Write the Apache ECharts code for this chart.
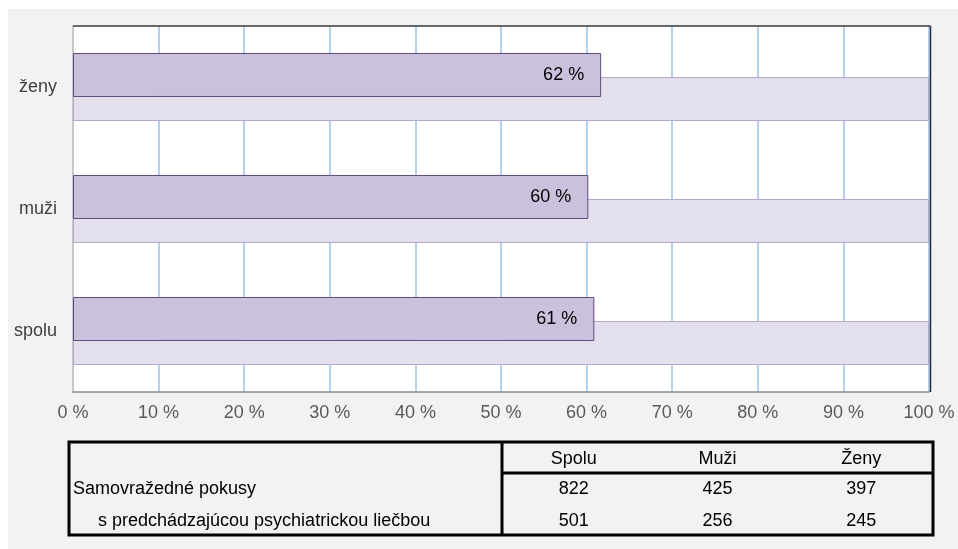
<!DOCTYPE html>
<html>
<head>
<meta charset="utf-8">
<script src="https://cdn.jsdelivr.net/npm/echarts@6/dist/echarts.min.js"></script>
<style>
html,body{margin:0;padding:0;background:#fff;}
#c{width:958px;height:549px;}
</style>
</head>
<body>
<div id="c"></div>
<script>
const categories = ['spolu', 'muži', 'ženy'];
const shareValues = [60.9, 60.2, 61.7];
const shareLabels = ['61 %', '60 %', '62 %'];
const fullValues = [100, 100, 100];
const tickSuffix = ' %';

const tableHeader = ['Spolu', 'Muži', 'Ženy'];
const tableRowLabels = ['Samovražedné pokusy', 's predchádzajúcou psychiatrickou liečbou'];
const tableRows = [[822, 425, 397], [501, 256, 245]];

const FONT = "'Liberation Sans', Arial, sans-serif";
const chart = echarts.init(document.getElementById('c'), null, {renderer: 'canvas'});

// plot frame
const gL = 73, gR = 929, gT = 26, gB = 392;
// table geometry
const tL = 69, tR = 933, tT = 442, tB = 535, tDiv = 502, tHead = 473;
const colW = (tR - tDiv) / tableHeader.length;
const rowY = [489, 521];
const graphics = [
  {type: 'rect', z: -100, silent: true, shape: {x: 8, y: 9, width: 950, height: 540}, style: {fill: '#f2f2f2'}},
  {type: 'line', z: 20, silent: true, shape: {x1: gL, y1: gT, x2: gR + 1.5, y2: gT}, style: {stroke: '#3a3a3a', lineWidth: 1.5}},
  {type: 'line', z: 20, silent: true, shape: {x1: gR + 1.5, y1: gT, x2: gR + 1.5, y2: gB}, style: {stroke: '#2b2b40', lineWidth: 1.5}},
  {type: 'rect', z: 10, shape: {x: tL, y: tT, width: tR - tL, height: tB - tT}, style: {fill: 'none', stroke: '#000', lineWidth: 3}},
  {type: 'line', z: 10, shape: {x1: tDiv, y1: tT, x2: tDiv, y2: tB}, style: {stroke: '#000', lineWidth: 3}},
  {type: 'line', z: 10, shape: {x1: tDiv, y1: tHead, x2: tR, y2: tHead}, style: {stroke: '#000', lineWidth: 3}}
];
tableHeader.forEach((h, i) => {
  graphics.push({type: 'text', z: 10, style: {text: h, x: tDiv + colW * (i + 0.5), y: 459, align: 'center', verticalAlign: 'middle', font: '18px ' + FONT, fill: '#000'}});
});
tableRowLabels.forEach((t, r) => {
  graphics.push({type: 'text', z: 10, style: {text: t, x: r === 0 ? 73 : 98, y: rowY[r], align: 'left', verticalAlign: 'middle', font: '18px ' + FONT, fill: '#000'}});
  tableRows[r].forEach((v, i) => {
    graphics.push({type: 'text', z: 10, style: {text: String(v), x: tDiv + colW * (i + 0.5), y: rowY[r], align: 'center', verticalAlign: 'middle', font: '18px ' + FONT, fill: '#000'}});
  });
});

chart.setOption({
  animation: false,
  backgroundColor: '#ffffff',
  textStyle: {fontFamily: FONT},
  grid: {left: gL, right: 958 - gR, top: gT, bottom: 549 - gB, show: true, backgroundColor: '#ffffff', borderColor: '#333333', borderWidth: 0, z: -1},
  xAxis: {
    type: 'value', min: 0, max: 100, interval: 10,
    axisLine: {show: true, onZero: false, lineStyle: {color: '#8c8c8c', width: 1.5}},
    axisTick: {show: false},
    axisLabel: {formatter: v => v + tickSuffix, color: '#595959', fontSize: 18, margin: 12, fontFamily: FONT},
    splitLine: {show: true, lineStyle: {color: '#9dc3e6', width: 1.5}}
  },
  yAxis: {
    type: 'category', data: categories,
    axisLine: {show: true, lineStyle: {color: '#c8c8c8', width: 2}},
    axisTick: {show: false},
    axisLabel: {color: '#404040', fontSize: 18, margin: 16, fontFamily: FONT},
    splitLine: {show: false}
  },
  graphic: graphics,
  series: [
    {
      name: 'share', type: 'bar', data: shareValues, barWidth: 44, barGap: '-45.45%', z: 4,
      itemStyle: {color: '#cbc1dc', borderColor: '#5e4b7d', borderWidth: 1},
      label: {show: true, position: 'insideRight', distance: 17, color: '#000', fontSize: 18, fontFamily: FONT,
        formatter: p => shareLabels[p.dataIndex]}
    },
    {
      name: 'full', type: 'bar', data: fullValues, barWidth: 44, z: 3,
      itemStyle: {color: '#e4dfec', borderColor: '#b5a6cb', borderWidth: 1}
    }
  ]
});
</script>
</body>
</html>
